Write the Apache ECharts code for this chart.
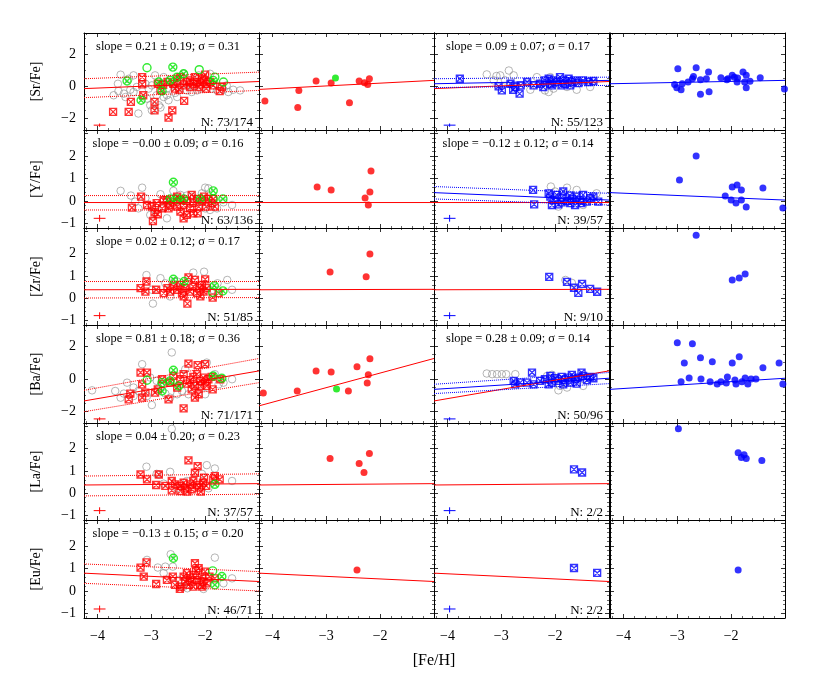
<!DOCTYPE html>
<html><head><meta charset="utf-8">
<script src="https://cdn.jsdelivr.net/npm/echarts@6/dist/echarts.min.js"></script>
<style>html,body{margin:0;padding:0;background:#fff}#c{width:830px;height:692px}</style>
</head><body><div id="c"></div>
<script>
// ---------------- DATA ----------------
const rowNames = ['[Sr/Fe]','[Y/Fe]','[Zr/Fe]','[Ba/Fe]','[La/Fe]','[Eu/Fe]'];
const xRange = [-4.25, -1.0];
const yRanges = [[-2.7,3.3],[-1.2,3.15],[-1.2,3.15],[-2.7,3.3],[-1.2,3.15],[-1.2,3.15]];
const slopeA = ['slope = 0.21 ± 0.19; σ = 0.31','slope = −0.00 ± 0.09; σ = 0.16','slope = 0.02 ± 0.12; σ = 0.17','slope = 0.81 ± 0.18; σ = 0.36','slope = 0.04 ± 0.20; σ = 0.23','slope = −0.13 ± 0.15; σ = 0.20'];
const countA = ['N: 73/174','N: 63/136','N: 51/85','N: 71/171','N: 37/57','N: 46/71'];
const slopeB = ['slope = 0.09 ± 0.07; σ = 0.17','slope = −0.12 ± 0.12; σ = 0.14',null,'slope = 0.28 ± 0.09; σ = 0.14',null,null];
const countB = ['N: 55/123','N: 39/57','N: 9/10','N: 50/96','N: 2/2','N: 2/2'];

// fit lines: [y at x=-4.25, y at x=-1.0]
const redFit  = [[-0.14,0.30],[-0.07,-0.07],[0.38,0.40],[-1.35,0.49],[0.37,0.43],[0.79,0.42]];
const redFit2 = [[-0.19,0.37],[-0.07,-0.07],[0.38,0.40],[-1.65,1.25],[0.37,0.43],[0.79,0.42]];
const redUp   = [[0.47,0.88],[0.24,0.24],[0.75,0.75],[-0.70,1.25],[0.77,0.87],[1.20,0.86]];
const redLo   = [[-0.70,-0.25],[-0.40,-0.40],[0.01,0.03],[-2.01,-0.23],[-0.12,-0.04],[0.34,0.00]];
const blueFit = [[0.16,0.37],[0.37,0.04],null,[-0.64,0.04],null,null];
const blueUp  = [[0.47,0.57],[0.64,0.34],null,[-0.33,0.39],null,null];
const blueLo  = [[-0.08,0.06],[0.09,-0.18],null,[-0.90,-0.29],null,null];
// typical error bars: [x, y, dx, dy]
const errBars = [[-3.96,-2.4,0.11,0.1],[-3.96,-0.77,0.11,0.15],[-3.96,-0.78,0.11,0.15],[-3.96,-2.45,0.11,0.1],[-3.96,-0.78,0.11,0.15],[-3.96,-0.8,0.11,0.15]];

// Sr
const srGrayA = [[-3.57,0.72],[-3.62,0.16],[-3.70,-0.55],[-3.61,-0.29],[-3.51,-0.45],[-3.48,-0.66],[-3.39,-0.21],[-3.33,-0.35],[-3.24,-1.68],[-3.08,-0.76],[-3.02,-1.17],[-2.99,-1.48],[-2.86,-1.17],[-2.83,-1.31],[-2.77,-0.66],[-2.71,-0.55],[-2.68,-0.86],[-2.52,-0.66],[-2.56,-0.41],[-2.90,-0.55],[-3.27,-0.04],[-3.11,0.16],[-3.05,-0.14],[-2.99,0.06],[-2.71,-0.14],[-2.34,-0.25],[-2.25,-0.35],[-2.15,-0.25],[-2.08,-0.14],[-1.88,-0.14],[-1.78,-0.25],[-1.66,-0.21],[-1.57,-0.35],[-1.48,-0.21],[-1.35,-0.25],[-1.60,0.06],[-2.46,0.37],[-2.77,0.57],[-2.93,0.68],[-2.40,0.78],[-2.12,0.68],[-1.91,0.78],[-3.33,0.68],[-3.42,0.47],[-2.60,0.10],[-2.30,0.20],[-2.20,0.00],[-2.50,-0.10],[-1.95,0.30]];
const srRedA = [[-3.71,-1.58],[-3.38,-0.96],[-3.42,-1.58],[-3.17,0.57],[-3.17,0.12],[-3.15,-0.55],[-2.94,-0.96],[-2.94,-1.48],[-2.68,-1.93],[-2.61,-1.48],[-2.39,-0.90],[-2.48,-0.20],[-2.88,0.16],[-2.78,0.10],[-2.70,0.27],[-2.59,0.16],[-2.52,0.37],[-2.46,0.57],[-2.40,0.06],[-2.34,0.27],[-2.28,0.37],[-2.22,0.16],[-2.15,0.27],[-2.09,0.12],[-2.03,0.37],[-1.97,0.16],[-1.91,0.27],[-1.85,0.06],[-2.00,0.72],[-1.98,-0.14],[-1.73,-0.29],[-1.69,-0.04],[-2.28,-0.04],[-2.19,0.57],[-2.12,-0.04],[-2.06,0.47],[-2.56,-0.14],[-2.83,-0.25]];
const srGreenXA = [[-3.45,0.33],[-2.60,1.19],[-2.40,0.78],[-2.80,-0.29],[-3.19,-0.86],[-1.85,0.37],[-2.65,0.37],[-2.52,0.57],[-2.86,0.27]];
const srGreenOA = [[-3.08,1.15],[-2.11,1.03],[-1.82,0.57],[-1.66,0.27]];
const srRedDots = [[-4.14,-0.90],[-3.51,-0.25],[-3.53,-1.31],[-3.19,0.33],[-2.91,0.20],[-2.57,-1.01],[-2.39,0.33],[-2.29,0.22],[-2.23,0.12],[-2.20,0.47]];
const srGreenDots = [[-2.83,0.51]];
const srGrayB = [[-3.27,0.74],[-3.09,0.64],[-3.02,0.68],[-2.86,0.98],[-2.93,0.37],[-2.77,0.68],[-2.34,0.57],[-2.19,-0.25],[-2.12,-0.35],[-2.03,-0.14],[-1.78,-0.04],[-1.60,-0.21],[-1.35,-0.04],[-2.46,-0.21],[-3.14,0.37],[-2.09,0.57]];
const srBlueX = [[-3.77,0.47],[-3.05,0.00],[-2.99,-0.25],[-2.83,0.16],[-2.78,-0.21],[-2.74,-0.04],[-2.66,-0.45],[-2.64,0.06],[-2.52,0.27],[-2.28,0.16],[-2.19,0.37],[-2.12,0.47],[-2.09,0.16],[-2.03,0.37],[-1.97,0.27],[-1.91,0.57],[-1.85,0.37],[-1.82,0.16],[-1.75,0.47],[-1.69,0.27],[-1.63,0.37],[-1.57,0.20],[-1.48,0.37],[-1.38,0.27],[-1.29,0.33],[-2.06,0.06],[-1.88,0.06],[-1.72,0.06],[-2.22,-0.04],[-2.40,0.06]];
const srBlueDots = [[-3.05,0.12],[-2.99,1.09],[-3.01,-0.08],[-2.93,-0.21],[-2.91,0.16],[-2.80,0.27],[-2.72,0.47],[-2.70,0.61],[-2.65,1.15],[-2.57,0.41],[-2.57,-0.49],[-2.46,0.47],[-2.42,0.88],[-2.41,-0.33],[-2.19,0.53],[-2.08,0.41],[-2.06,0.47],[-1.98,0.68],[-1.94,0.57],[-1.89,0.27],[-1.88,0.51],[-1.78,0.88],[-1.75,0.27],[-1.72,0.68],[-1.72,-0.08],[-1.65,0.31],[-1.46,0.53],[-1.01,-0.16]];

// Y
const yGrayA = [[-3.57,0.45],[-3.38,0.24],[-3.30,-0.03],[-3.24,-0.33],[-3.17,0.59],[-3.11,0.12],[-2.83,0.30],[-2.77,-0.30],[-2.59,0.45],[-2.46,0.27],[-2.34,0.24],[-2.25,0.19],[-2.00,0.59],[-1.94,0.56],[-2.00,-0.33],[-1.91,-0.40],[-1.78,-0.33],[-1.50,-0.18],[-1.66,-0.06],[-2.06,0.34],[-3.02,-0.62],[-2.71,-0.77],[-2.93,-0.40]];
const yRedA = [[-3.19,0.19],[-3.36,-0.30],[-3.08,-0.18],[-2.99,-0.25],[-2.94,-0.50],[-2.88,-0.59],[-2.97,-0.89],[-2.90,-0.10],[-2.71,0.04],[-2.65,-0.18],[-2.59,-0.06],[-2.52,-0.25],[-2.46,0.04],[-2.40,-0.18],[-2.34,0.00],[-2.28,-0.33],[-2.22,-0.10],[-2.15,0.09],[-2.12,-0.25],[-2.06,-0.03],[-2.02,0.19],[-1.98,-0.25],[-1.94,0.09],[-1.88,-0.10],[-2.46,-0.47],[-2.34,-0.62],[-2.22,-0.55],[-2.68,-0.33],[-2.52,0.19],[-2.25,0.27],[-2.14,-0.55],[-2.40,-0.77],[-2.77,0.04],[-2.80,-0.33],[-1.82,-0.25],[-1.85,0.09]];
const yGreenXA = [[-2.59,0.83],[-2.65,0.09],[-2.52,0.09],[-2.40,0.09],[-1.85,0.45],[-1.67,0.09],[-2.09,0.09]];
const yGreenOA = [[-1.85,0.09]];
const yRedDots = [[-3.17,0.62],[-2.91,0.49],[-2.28,0.13],[-2.19,0.40],[-2.17,1.33],[-2.22,-0.18]];
const yGrayB = [[-2.08,0.64],[-1.78,0.59],[-1.60,0.49],[-1.48,-0.18],[-2.00,0.42],[-1.23,0.34],[-1.94,-0.25]];
const yBlueX = [[-2.41,0.49],[-2.39,-0.15],[-2.12,0.34],[-2.09,0.19],[-2.03,0.04],[-1.97,0.27],[-1.94,-0.15],[-1.88,0.15],[-1.85,0.42],[-1.78,0.00],[-1.73,0.24],[-1.69,0.09],[-1.63,-0.18],[-1.60,0.19],[-1.54,0.04],[-1.48,0.27],[-1.41,-0.03],[-1.35,0.12],[-1.29,0.19],[-1.20,-0.03],[-2.06,-0.18],[-1.88,-0.06],[-1.72,-0.10],[-1.51,-0.10]];
const yBlueDots = [[-2.96,0.93],[-2.65,2.00],[-2.11,0.22],[-1.98,0.62],[-1.89,0.71],[-1.81,0.49],[-1.81,0.04],[-1.72,-0.27],[-1.91,-0.09],[-1.41,0.58],[-1.04,-0.31],[-2.00,0.04]];

// Zr
const zrGrayA = [[-3.09,1.04],[-2.99,0.38],[-2.83,0.90],[-2.97,-0.24],[-2.57,0.75],[-2.22,1.15],[-2.02,1.19],[-2.74,0.67],[-1.86,0.38],[-1.77,0.67],[-1.59,0.82],[-1.50,0.38],[-1.97,0.60],[-2.52,0.75],[-2.65,0.08]];
const zrRedA = [[-3.20,0.45],[-3.09,0.75],[-3.11,0.30],[-2.91,0.38],[-2.70,0.45],[-2.65,0.30],[-2.59,0.53],[-2.52,0.38],[-2.46,0.60],[-2.43,0.23],[-2.37,0.45],[-2.31,0.94],[-2.28,0.30],[-2.22,0.53],[-2.19,0.82],[-2.15,0.23],[-2.11,0.45],[-2.06,0.60],[-2.03,0.30],[-2.00,0.85],[-1.97,0.45],[-2.09,0.08],[-2.33,-0.24],[-1.86,0.03],[-1.75,0.23],[-2.77,0.23],[-2.40,0.08]];
const zrGreenXA = [[-2.59,0.85],[-2.39,0.75],[-1.83,0.56],[-1.67,0.33]];
const zrGreenOA = [[-1.86,0.26]];
const zrRedDots = [[-2.93,1.18],[-2.19,1.98],[-2.26,0.96]];
const zrGrayB = [[-1.81,0.82],[-1.69,0.69]];
const zrBlueX = [[-2.11,0.96],[-1.78,0.73],[-1.65,0.47],[-1.50,0.64],[-1.35,0.42],[-1.22,0.29],[-1.57,0.24]];
const zrBlueDots = [[-2.65,2.82],[-1.98,0.82],[-1.85,0.91],[-1.74,1.09]];

// Ba
const baGrayA = [[-4.10,-0.70],[-3.67,-0.74],[-3.51,-0.90],[-3.45,-0.23],[-3.33,-0.53],[-3.24,-0.74],[-3.17,0.90],[-3.08,-1.05],[-2.99,-1.60],[-2.90,-0.12],[-2.83,-0.43],[-2.74,-0.90],[-2.62,1.62],[-2.52,-0.94],[-2.43,-0.74],[-2.37,0.59],[-2.31,-0.94],[-2.15,-0.43],[-2.00,-0.94],[-1.97,1.00],[-1.82,0.29],[-1.66,-0.23],[-1.50,-0.02],[-1.75,-0.33],[-3.33,-1.05],[-3.02,0.08],[-2.65,-1.15],[-3.57,-1.15]];
const baRedA = [[-3.39,-0.90],[-3.20,0.39],[-3.08,0.39],[-3.17,-0.33],[-3.17,-1.15],[-3.11,-0.84],[-3.42,-1.25],[-2.88,-0.64],[-2.68,-1.25],[-2.80,-0.02],[-2.52,-0.53],[-2.46,-0.02],[-2.40,0.29],[-2.40,-1.81],[-2.34,-0.29],[-2.31,0.94],[-2.28,-0.08],[-2.22,0.12],[-2.19,-0.43],[-2.15,0.29],[-2.14,0.84],[-2.09,-0.12],[-2.03,0.08],[-2.00,-0.23],[-1.94,-0.02],[-1.88,0.12],[-2.19,-1.15],[-2.12,-0.94],[-2.00,0.90],[-1.86,-0.64],[-1.72,-0.02],[-2.25,-0.64],[-2.59,0.18],[-2.65,-0.23],[-2.93,-0.84],[-1.97,-0.43],[-2.09,-0.43]];
const baGreenXA = [[-2.59,0.53],[-2.65,-0.12],[-2.80,-0.23],[-2.80,-0.74],[-2.49,-0.43],[-1.85,0.18],[-1.69,0.04]];
const baGreenOA = [[-3.08,-0.08]];
const baRedDots = [[-4.17,-0.86],[-3.54,-0.74],[-3.19,0.49],[-2.91,0.43],[-2.59,-0.74],[-2.43,0.74],[-2.22,0.25],[-2.24,-0.25],[-2.19,1.23]];
const baGreenDots = [[-2.81,-0.62]];
const baGrayB = [[-3.27,0.33],[-3.17,0.29],[-3.08,0.29],[-2.99,0.29],[-2.91,0.29],[-2.74,0.29],[-2.15,0.18],[-2.06,0.25],[-1.94,-0.70],[-1.78,-0.53],[-1.91,-0.43],[-1.48,-0.43]];
const baBlueX = [[-2.77,-0.12],[-2.74,-0.33],[-2.65,-0.23],[-2.52,-0.23],[-2.43,0.39],[-2.40,-0.33],[-2.28,-0.12],[-2.19,-0.02],[-2.12,-0.33],[-2.06,-0.23],[-2.00,0.04],[-1.94,-0.12],[-1.88,0.12],[-1.82,-0.08],[-1.75,0.08],[-1.69,0.25],[-1.63,-0.02],[-1.57,0.08],[-1.51,0.39],[-1.48,0.18],[-1.41,-0.08],[-1.35,0.12],[-1.29,0.04],[-1.85,-0.33],[-1.72,-0.23],[-1.60,-0.29],[-2.09,0.18]];
const baBlueDots = [[-3.00,2.22],[-2.93,-0.18],[-2.87,0.98],[-2.72,2.15],[-2.57,1.29],[-2.39,-0.18],[-2.35,1.05],[-2.19,-0.18],[-2.07,0.12],[-1.98,0.98],[-1.93,-0.06],[-1.85,1.35],[-1.80,-0.18],[-1.74,0.06],[-1.69,-0.31],[-1.54,0.00],[-1.41,0.68],[-1.11,0.98],[-1.04,-0.31],[-2.78,0.06],[-2.56,0.00],[-2.26,-0.31],[-1.91,-0.31],[-1.63,0.00],[-2.09,-0.25]];

// La
const laGrayA = [[-3.09,1.19],[-2.86,0.84],[-2.65,0.96],[-2.62,2.89],[-1.97,1.26],[-1.82,1.11],[-1.50,0.55],[-2.90,0.87],[-2.77,0.43],[-2.52,0.22],[-2.34,0.55],[-2.06,0.87],[-1.94,0.22]];
const laRedA = [[-3.20,0.84],[-3.08,0.62],[-2.91,0.37],[-2.86,0.84],[-2.62,0.55],[-2.62,0.13],[-2.56,0.40],[-2.46,0.33],[-2.40,0.47],[-2.37,0.22],[-2.33,0.07],[-2.31,1.47],[-2.28,0.40],[-2.25,0.18],[-2.22,0.55],[-2.19,0.92],[-2.15,0.37],[-2.14,1.22],[-2.11,0.25],[-2.08,0.07],[-2.04,0.47],[-2.02,0.70],[-1.98,0.33],[-1.85,0.62],[-1.82,0.77],[-1.73,0.62],[-2.46,0.10],[-2.74,0.33]];
const laGreenXA = [[-1.82,0.40]];
const laRedDots = [[-2.93,1.56],[-2.39,1.33],[-2.20,1.78],[-2.30,0.93]];
const laBlueX = [[-1.65,1.07],[-1.50,0.93]];
const laBlueDots = [[-2.98,2.89],[-1.87,1.82],[-1.81,1.60],[-1.72,1.56],[-1.76,1.73],[-1.43,1.47]];

// Eu
const euGrayA = [[-3.08,1.38],[-2.88,1.04],[-2.74,1.08],[-2.64,1.63],[-2.60,1.08],[-2.40,0.19],[-2.33,0.12],[-1.82,1.48],[-1.66,0.34],[-1.50,0.56],[-2.49,0.49],[-2.03,0.09],[-2.77,0.79]];
const euRedA = [[-3.20,1.04],[-3.09,1.27],[-3.14,0.64],[-2.91,0.31],[-2.71,0.49],[-2.60,0.64],[-2.56,0.27],[-2.46,0.19],[-2.40,0.64],[-2.37,0.42],[-2.34,0.79],[-2.31,0.27],[-2.28,0.56],[-2.25,0.42],[-2.22,0.71],[-2.19,1.23],[-2.17,0.89],[-2.15,0.49],[-2.12,1.01],[-2.09,0.27],[-2.06,0.64],[-2.03,0.42],[-2.00,0.86],[-1.97,0.34],[-1.92,0.64],[-2.47,0.09],[-2.22,0.19],[-2.06,0.19],[-1.82,0.56]];
const euGreenXA = [[-2.59,1.45],[-1.69,0.64],[-1.82,0.27]];
const euGreenOA = [[-1.86,0.89]];
const euRedDots = [[-2.43,0.93]];
const euBlueX = [[-1.65,1.02],[-1.22,0.80]];
const euBlueDots = [[-1.87,0.93]];

// ---------------- LAYOUT / BUILD ----------------
const colLeft = [84,259,434,610], colW = 175;
const rowTop = [33,130,228,325,423,520], rowH = [97,98,97,98,97,98];
const FONT = '"Liberation Serif","DejaVu Serif",serif';

const panels = [
 [{gray:srGrayA, redX:srRedA, greenX:srGreenXA, greenO:srGreenOA},{redD:srRedDots, greenD:srGreenDots},{gray:srGrayB, blueX:srBlueX},{blueD:srBlueDots}],
 [{gray:yGrayA, redX:yRedA, greenX:yGreenXA, greenO:yGreenOA},{redD:yRedDots},{gray:yGrayB, blueX:yBlueX},{blueD:yBlueDots}],
 [{gray:zrGrayA, redX:zrRedA, greenX:zrGreenXA, greenO:zrGreenOA},{redD:zrRedDots},{gray:zrGrayB, blueX:zrBlueX},{blueD:zrBlueDots}],
 [{gray:baGrayA, redX:baRedA, greenX:baGreenXA, greenO:baGreenOA},{redD:baRedDots, greenD:baGreenDots},{gray:baGrayB, blueX:baBlueX},{blueD:baBlueDots}],
 [{gray:laGrayA, redX:laRedA, greenX:laGreenXA},{redD:laRedDots},{blueX:laBlueX},{blueD:laBlueDots}],
 [{gray:euGrayA, redX:euRedA, greenX:euGreenXA, greenO:euGreenOA},{redD:euRedDots},{blueX:euBlueX},{blueD:euBlueDots}]
];

const XBOX = 'path://M0,0L10,0L10,10L0,10Z M0,0L10,10 M10,0L0,10';
const XCIRC = 'path://M10,5A5,5 0 1 1 0,5A5,5 0 1 1 10,5Z M1.6,1.6L8.4,8.4 M8.4,1.6L1.6,8.4';
const RED='#ff0000', BLUE='#0000ff', GREEN='#00e600', GRAY='#8a8a8a';
const styles = {
  gray:  {symbol:'circle', symbolSize:7.5, itemStyle:{color:'rgba(0,0,0,0)', borderColor:GRAY, borderWidth:0.8}, z:2},
  redX:  {symbol:XBOX, symbolSize:7, itemStyle:{color:'rgba(0,0,0,0)', borderColor:RED, borderWidth:1.3}, z:3},
  blueX: {symbol:XBOX, symbolSize:7, itemStyle:{color:'rgba(0,0,0,0)', borderColor:BLUE, borderWidth:1.3}, z:3},
  greenX:{symbol:XCIRC, symbolSize:8, itemStyle:{color:'rgba(0,0,0,0)', borderColor:GREEN, borderWidth:1.4}, z:4},
  greenO:{symbol:'circle', symbolSize:8, itemStyle:{color:'rgba(0,0,0,0)', borderColor:GREEN, borderWidth:1.4}, z:4},
  redD:  {symbol:'circle', symbolSize:7, itemStyle:{color:RED}, z:3},
  blueD: {symbol:'circle', symbolSize:7, itemStyle:{color:BLUE}, z:3},
  greenD:{symbol:'circle', symbolSize:7, itemStyle:{color:GREEN}, z:4}
};

function fmtNum(v){ return v < 0 ? '−' + Math.abs(v) : String(v); }
const grids = [], xAxes = [], yAxes = [], series = [], graphics = [];

function lineSeries(ax, pts, color, type){
  series.push({type:'line', xAxisIndex:ax, yAxisIndex:ax, data:pts, symbol:'none', silent:true,
    lineStyle:{color:color, width:1, type:type||'solid'}, z:5, animation:false, clip:true});
}

for (let r = 0; r < 6; r++) {
  const big = (r === 0 || r === 3);
  for (let c = 0; c < 4; c++) {
    const g = grids.length;
    grids.push({left:colLeft[c], top:rowTop[r], width:colW, height:rowH[r], outerBoundsMode:'none', containLabel:false});
    const common = {gridIndex:g, type:'value', splitLine:{show:false},
      axisLine:{show:true, onZero:false, lineStyle:{color:'#000', width:1}},
      axisTick:{show:true, inside:true, length:4, lineStyle:{color:'#000', width:0.8}}};
    const xa = Object.assign({}, common, {min:xRange[0], max:xRange[1], splitNumber:3,
      minorTick:{show:true, splitNumber:5, length:2, lineStyle:{color:'#000', width:0.6}}});
    xAxes.push(Object.assign({}, xa, {position:'bottom', axisLabel:{show:r===5, color:'#000', fontFamily:FONT, fontSize:14, margin:11,
      formatter:v => (Math.abs(v-Math.round(v))<1e-6 && v < -1.5 && v > -4.2) ? fmtNum(Math.round(v)) : ''}}));
    xAxes.push(Object.assign({}, xa, {position:'top', axisLabel:{show:false}}));
    const ya = Object.assign({}, common, {min:yRanges[r][0], max:yRanges[r][1], splitNumber: big ? 3 : 4,
      minorTick:{show:true, splitNumber: big ? 4 : 5, length:2, lineStyle:{color:'#000', width:0.6}}});
    yAxes.push(Object.assign({}, ya, {position:'left', axisLabel:{show:c===0, color:'#000', fontFamily:FONT, fontSize:14, margin:8,
      formatter:v => (Math.abs(v-Math.round(v))<1e-6 && v < 2.5) ? fmtNum(Math.round(v)) : ''}}));
    yAxes.push(Object.assign({}, ya, {position:'right', axisLabel:{show:false}}));
    const ax = 2*g;

    // points
    const p = panels[r][c];
    ['gray','redX','blueX','greenO','greenX','redD','blueD','greenD'].forEach(k => {
      if (p[k]) series.push(Object.assign({type:'scatter', xAxisIndex:ax, yAxisIndex:ax, data:p[k], silent:true, animation:false}, styles[k]));
    });
    // lines
    const rf = c === 1 ? redFit2[r] : redFit[r];
    if (c <= 2) lineSeries(ax, [[xRange[0], rf[0]],[xRange[1], rf[1]]], RED);
    if (c === 0) {
      lineSeries(ax, [[xRange[0], redUp[r][0]],[xRange[1], redUp[r][1]]], RED, 'dotted');
      lineSeries(ax, [[xRange[0], redLo[r][0]],[xRange[1], redLo[r][1]]], RED, 'dotted');
    }
    if (c >= 2 && blueFit[r]) lineSeries(ax, [[xRange[0], blueFit[r][0]],[xRange[1], blueFit[r][1]]], BLUE);
    if (c === 2 && blueUp[r]) {
      lineSeries(ax, [[xRange[0], blueUp[r][0]],[xRange[1], blueUp[r][1]]], BLUE, 'dotted');
      lineSeries(ax, [[xRange[0], blueLo[r][0]],[xRange[1], blueLo[r][1]]], BLUE, 'dotted');
    }
    // error cross
    if (c === 0 || c === 2) {
      const e = errBars[r], col = c === 0 ? RED : BLUE;
      lineSeries(ax, [[e[0]-e[2], e[1]],[e[0]+e[2], e[1]]], col);
      lineSeries(ax, [[e[0], e[1]-e[3]],[e[0], e[1]+e[3]]], col);
    }
    // texts
    const sl = c === 0 ? slopeA[r] : (c === 2 ? slopeB[r] : null);
    const nt = c === 0 ? countA[r] : (c === 2 ? countB[r] : null);
    if (sl) graphics.push({type:'text', x:colLeft[c]+84, y:rowTop[r]+14, silent:true, z:10,
      style:{text:sl, fill:'#000', font:'12.4px ' + FONT, align:'center', verticalAlign:'middle'}});
    if (nt) graphics.push({type:'text', x:colLeft[c]+colW-6, y:rowTop[r]+rowH[r]-7, silent:true, z:10,
      style:{text:nt, fill:'#000', font:'13px ' + FONT, align:'right', verticalAlign:'middle'}});
  }
  graphics.push({type:'text', x:36, y:rowTop[r]+rowH[r]/2, rotation:Math.PI/2, silent:true,
    style:{text:rowNames[r], fill:'#000', font:'14px ' + FONT, align:'center', verticalAlign:'middle'}});
}
graphics.push({type:'text', x:434, y:661, silent:true,
  style:{text:'[Fe/H]', fill:'#000', font:'16px ' + FONT, align:'center', verticalAlign:'middle'}});

const chart = echarts.init(document.getElementById('c'), null, {renderer:'canvas'});
chart.setOption({animation:false, backgroundColor:'#fff', grid:grids, xAxis:xAxes, yAxis:yAxes, series:series, graphic:graphics});
</script></body></html>
